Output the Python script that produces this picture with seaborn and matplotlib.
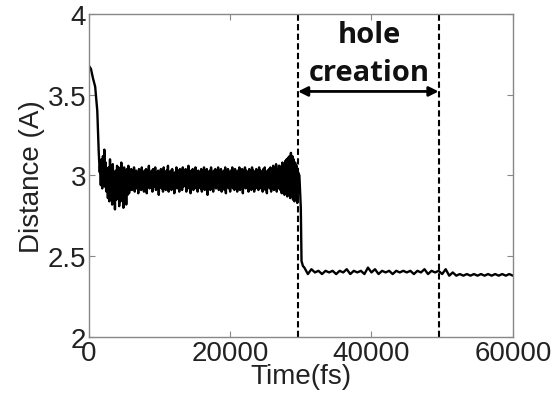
import matplotlib
matplotlib.use("Agg")
import matplotlib.pyplot as plt
import numpy as np
import pandas as pd
import seaborn as sns

# Initial relaxation (time in fs, distance in A)
t_relax = [0, 300, 600, 900, 1200, 1400, 1550]
d_relax = [3.68, 3.66, 3.60, 3.55, 3.40, 3.15, 3.02]

# Fluctuating plateau near 3 A, sampled every 100 fs from 1600 fs
plateau_t0, plateau_dt = 1600, 100
d_plateau = [
    # 1600 - 5900 fs: strong early oscillations
    3.06, 2.94, 3.10, 2.92, 3.12, 2.96, 3.16, 2.93, 3.08, 2.90,
    3.02, 2.86, 3.05, 2.84, 3.10, 2.88, 3.04, 2.82, 3.07, 2.86,
    3.00, 2.79, 3.03, 2.85, 3.06, 2.90, 3.05, 2.81, 3.02, 2.84,
    3.08, 2.87, 3.03, 2.80, 3.05, 2.86, 3.01, 2.82, 3.04, 2.88,
    3.06, 2.89, 3.03, 2.91,
    # 6000 - 26900 fs: steady fluctuations
    3.04, 2.91, 3.02, 2.94, 3.05, 2.90, 2.99, 3.03, 2.92, 3.01, 2.89, 3.04, 2.95, 3.02,
    2.91, 3.05, 2.93, 3.00, 2.90, 3.03, 2.96, 3.04, 2.89, 3.02, 2.94, 3.06, 2.92, 3.01,
    2.95, 3.03, 2.90, 3.04, 2.93, 2.99, 3.05, 2.91, 3.02, 2.94, 3.03, 2.88, 3.01, 2.96,
    3.04, 2.92, 3.02, 2.90, 3.05, 2.95, 3.00, 2.91, 3.03, 2.93, 3.06, 2.90, 3.01, 2.94,
    3.03, 2.91, 3.04, 2.96, 3.00, 2.89, 3.02, 2.93, 3.05, 2.92, 2.99, 3.03, 2.90, 3.04,
    2.94, 3.01, 2.91, 3.05, 2.93, 3.02, 2.95, 3.04, 2.90, 3.00, 2.92, 3.06, 2.94, 3.02,
    2.89, 3.03, 2.93, 3.04, 2.91, 3.01, 2.95, 3.05, 2.92, 3.02, 2.90, 3.03, 2.96, 3.00,
    2.92, 3.04, 2.90, 3.02, 2.94, 3.05, 2.91, 3.01, 2.93, 3.04, 2.88, 3.02, 2.95, 3.03,
    2.91, 3.05, 2.93, 3.00, 2.90, 3.03, 2.94, 3.04, 2.92, 3.02, 2.96, 3.05, 2.91, 3.01,
    2.93, 3.04, 2.90, 3.02, 2.95, 3.03, 2.91, 3.05, 2.89, 3.01, 2.94, 3.04, 2.92, 3.02,
    2.90, 3.03, 2.94, 3.05, 2.92, 3.00, 2.91, 3.04, 2.95, 3.02, 2.90, 3.03, 2.93, 3.05,
    2.91, 3.02, 2.94, 3.04, 2.89, 3.01, 2.93, 3.05, 2.92, 3.03, 2.95, 3.02, 2.90, 3.04,
    2.93, 3.01, 2.91, 3.05, 2.94, 3.03, 2.90, 3.02, 2.92, 3.04, 2.95, 3.01, 2.91, 3.05,
    2.92, 3.03, 2.94, 3.02, 2.90, 3.04, 2.93, 3.05, 2.91, 3.02, 2.89, 3.03, 2.94, 3.04,
    2.92, 3.05, 2.90, 3.03, 2.94, 3.06, 2.91, 3.02, 2.93, 3.07, 2.90, 3.04, 2.92, 3.06,
    # 27000 - 29600 fs: growing oscillations before the collapse
    3.06, 2.91, 3.05, 2.89, 3.08, 2.92, 3.07, 2.88, 3.09, 2.90,
    3.10, 2.87, 3.11, 2.91, 3.12, 2.86, 3.14, 2.89, 3.12, 2.85,
    3.10, 2.84, 3.08, 2.86, 3.06, 2.83, 3.02,
]

# Collapse when the hole opens
t_drop = [29800, 30000, 30100, 30300]
d_drop = [3.00, 2.80, 2.47, 2.44]

# Low plateau, sampled every 500 fs from 30500 fs
low_t0, low_dt = 30500, 500
d_low = [
    2.43, 2.39, 2.42, 2.40, 2.41, 2.39, 2.41, 2.40, 2.41, 2.39,
    2.41, 2.40, 2.42, 2.39, 2.41, 2.40, 2.41, 2.39, 2.43, 2.40,
    2.42, 2.39, 2.41, 2.40, 2.41, 2.39, 2.41, 2.40, 2.41, 2.40,
    2.41, 2.39, 2.41, 2.40, 2.42, 2.39, 2.41, 2.40, 2.41, 2.39,
    2.42, 2.38, 2.40, 2.38, 2.39, 2.38, 2.39, 2.38, 2.39, 2.38,
    2.39, 2.38, 2.39, 2.38, 2.39, 2.38, 2.39, 2.38, 2.39, 2.38,
]

# Hole-creation window
hole_start, hole_end = 29600, 49500
hole_label = "hole\ncreation"

x_ticks = [0, 20000, 40000, 60000]
x_ticklabels = ["0", "20000", "40000", "60000"]
y_ticks = [2, 2.5, 3, 3.5, 4]
y_ticklabels = ["2", "2.5", "3", "3.5", "4"]

t_plateau = [plateau_t0 + i * plateau_dt for i in range(len(d_plateau))]
t_low = [low_t0 + i * low_dt for i in range(len(d_low))]

df = pd.DataFrame({
    "Time(fs)": t_relax + t_plateau + t_drop + t_low,
    "Distance (A)": d_relax + d_plateau + d_drop + d_low,
})

sns.set_style("ticks")
plt.rcParams["font.family"] = ["Liberation Sans", "DejaVu Sans"]

fig = plt.figure(figsize=(5.55, 4.02), dpi=100)
ax = fig.add_axes([0.160, 0.159, 0.764, 0.804])

sns.lineplot(data=df, x="Time(fs)", y="Distance (A)", ax=ax, color="black",
             linewidth=1.7, estimator=None, sort=False)

for xv in (hole_start, hole_end):
    ax.axvline(xv, color="black", linewidth=1.5, linestyle=(0, (3, 1.6)))

ax.annotate("", xy=(hole_start, 3.52), xytext=(hole_end, 3.52),
            arrowprops=dict(arrowstyle="<|-|>", color="black", lw=2,
                            mutation_scale=14, shrinkA=0, shrinkB=0))
ax.text((hole_start + hole_end) / 2 + 100, 3.755, hole_label, ha="center",
        va="center", fontsize=21, fontweight="bold", family="Open Sans",
        linespacing=1.45, color="#111111")

ax.set_xlim(0, 60000)
ax.set_ylim(2, 4)
ax.set_xticks(x_ticks)
ax.set_xticklabels(x_ticklabels)
ax.set_yticks(y_ticks)
ax.set_yticklabels(y_ticklabels)
ax.tick_params(direction="in", length=4, width=0.8, color="#888888",
               labelsize=20, labelcolor="#222222", pad=2,
               top=True, right=True)
ax.set_xlabel("Time(fs)", fontsize=20, color="#222222", labelpad=-2)
ax.set_ylabel("Distance (A)", fontsize=20, color="#222222", labelpad=2)
for sp in ax.spines.values():
    sp.set_color("#888888")
    sp.set_linewidth(1.0)

fig.savefig("out.png", dpi=100)
